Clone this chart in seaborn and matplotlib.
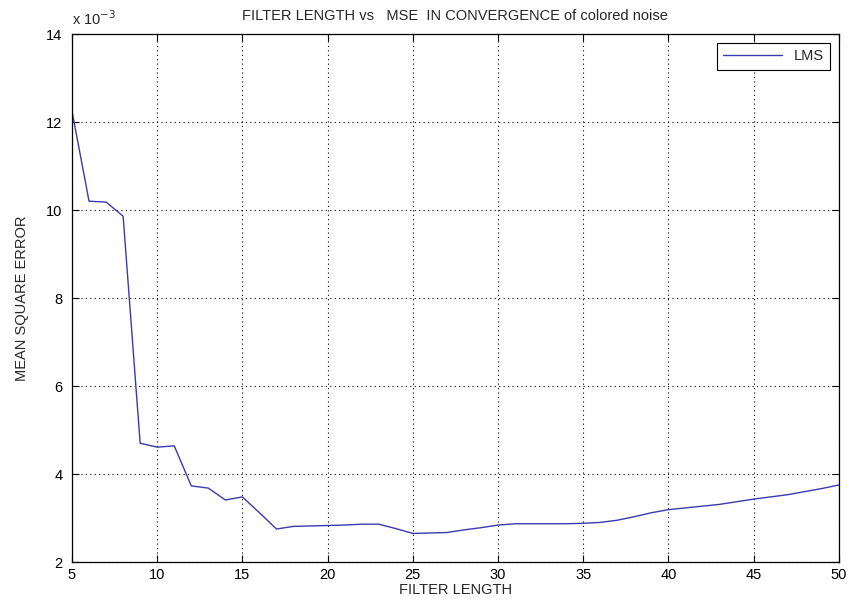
import matplotlib
matplotlib.use("Agg")
import matplotlib.pyplot as plt
import seaborn as sns
import pandas as pd

# Filter length (taps) and LMS mean square error at convergence (units of 1e-3)
filter_length = list(range(5, 51))
mse_x1e3 = [
    12.25, 10.2, 10.18, 9.86, 4.70, 4.61, 4.64, 3.73, 3.68, 3.41,
    3.48, 3.12, 2.75, 2.81, 2.82, 2.83, 2.84, 2.86, 2.86, 2.76,
    2.65, 2.66, 2.67, 2.73, 2.78, 2.84, 2.87, 2.87, 2.87, 2.87,
    2.88, 2.90, 2.95, 3.03, 3.12, 3.19, 3.23, 3.27, 3.31, 3.37,
    3.43, 3.48, 3.53, 3.60, 3.67, 3.75,
]
x_ticks = [5, 10, 15, 20, 25, 30, 35, 40, 45, 50]
y_ticks = [2, 4, 6, 8, 10, 12, 14]

df = pd.DataFrame({"FILTER LENGTH": filter_length, "MSE": mse_x1e3})

sns.set_style("ticks")
plt.rcParams["font.family"] = ["Liberation Sans", "DejaVu Sans"]

fig = plt.figure(figsize=(8.49, 6.04), dpi=100)
fig.patch.set_facecolor("white")
ax = fig.add_axes([0.0848, 0.0695, 0.9032, 0.8742])

sns.lineplot(data=df, x="FILTER LENGTH", y="MSE", ax=ax, color="#3a3ab0",
             linewidth=1.0, label="LMS")

ax.set_xlim(5, 50)
ax.set_ylim(2, 14)
ax.set_xticks(x_ticks)
ax.set_yticks(y_ticks)
ax.tick_params(direction="in", length=5, width=0.8, top=True, right=True,
               labelsize=10.5, colors="black")
ax.tick_params(axis="y", pad=7)
ax.tick_params(axis="x", pad=4)
for s in ax.spines.values():
    s.set_linewidth(0.9)
    s.set_color("black")
ax.grid(True, linestyle=(0, (1, 3)), color="black", linewidth=0.8)

ax.set_xlabel("FILTER LENGTH", fontsize=10.5, labelpad=1)
ax.set_ylabel("MEAN SQUARE ERROR", fontsize=10.5, labelpad=12)
ax.set_title("FILTER LENGTH vs   MSE  IN CONVERGENCE of colored noise",
             fontsize=10.5, pad=10)
ax.text(0.0, 1.012, r"x 10$^{-3}$", transform=ax.transAxes, fontsize=10.5,
        ha="left", va="bottom")

leg = ax.legend(loc="upper right", fontsize=10.5, frameon=True, fancybox=False,
                edgecolor="black", handlelength=4.0, borderpad=0.45,
                borderaxespad=0.6)
leg.get_frame().set_linewidth(0.8)
leg.get_frame().set_alpha(1)

fig.savefig("out.png", dpi=100, facecolor="white")
